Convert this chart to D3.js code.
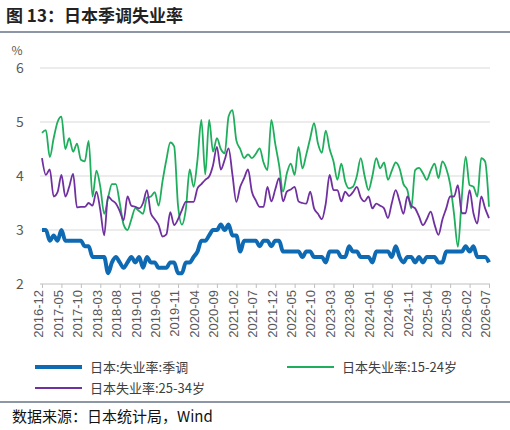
<!DOCTYPE html>
<html><head><meta charset="utf-8">
<script src="https://cdn.jsdelivr.net/npm/d3@7"></script>
<style>body{margin:0;background:#fff}svg{display:block}</style>
</head><body><svg id="c" width="510" height="430"></svg>
<script>
const startYear=2016,startMonth=12,nMonths=116;
const yTicks=[2,3,4,5,6];
const seriesNames=["日本:失业率:季调","日本失业率:15-24岁","日本失业率:25-34岁"];
const total=[3.0,
3.0,2.8,2.9,2.8,3.0,2.8,2.8,2.8,2.8,2.8,2.7,2.7,
2.5,2.5,2.5,2.5,2.2,2.4,2.5,2.4,2.3,2.4,2.5,2.4,
2.5,2.3,2.5,2.4,2.4,2.3,2.3,2.3,2.4,2.4,2.2,2.2,
2.4,2.4,2.5,2.6,2.8,2.8,2.9,3.0,3.0,3.1,3.0,3.1,
2.9,2.9,2.6,2.8,2.8,2.8,2.8,2.7,2.8,2.8,2.7,2.8,
2.8,2.6,2.6,2.6,2.6,2.6,2.5,2.6,2.6,2.5,2.5,2.5,
2.4,2.6,2.6,2.6,2.5,2.5,2.7,2.6,2.6,2.5,2.5,2.5,
2.4,2.6,2.6,2.6,2.6,2.5,2.7,2.5,2.4,2.5,2.5,2.4,
2.5,2.4,2.5,2.5,2.5,2.4,2.4,2.6,2.6,2.6,2.6,2.6,
2.7,2.6,2.7,2.5,2.5,2.5,2.4];
const youth=[4.8,4.85,4.35,4.7,5.0,5.1,4.5,4.7,4.45,4.6,4.3,4.27,4.65,3.62,4.1,3.8,3.3,3.6,3.85,3.85,3.5,3.1,3.0,3.2,3.4,3.35,3.3,3.6,3.62,3.7,3.45,3.9,4.3,4.62,4.55,3.45,3.1,3.38,4.12,3.8,4.3,5.04,4.03,5.04,4.45,4.7,4.5,4.42,5.1,5.22,4.66,4.5,4.33,4.4,4.33,4.41,4.51,4.25,4.11,5.04,4.6,4.2,3.71,4.05,4.23,4.02,4.54,4.14,4.4,4.7,4.98,4.6,4.43,4.84,4.5,4.27,3.93,4.23,3.9,3.77,3.8,4.0,4.33,4.0,3.74,4.0,4.33,4.14,4.25,3.93,4.1,4.25,4.14,3.85,3.74,3.4,4.11,4.15,4.05,3.93,4.1,4.23,3.96,4.27,4.14,3.85,3.3,2.69,3.6,4.36,3.83,3.8,3.62,4.33,4.27,3.43];
const adult=[4.33,4.02,4.12,3.62,3.7,4.02,3.62,3.8,4.04,3.42,3.43,3.43,3.5,3.45,3.71,3.37,2.9,3.62,3.55,3.49,3.35,3.18,3.62,3.45,3.43,3.4,3.5,3.74,3.31,3.2,3.09,2.88,2.92,3.33,3.09,3.2,3.37,3.52,3.52,3.52,3.77,3.85,3.93,3.99,4.2,4.54,4.12,4.3,4.51,4.02,3.52,3.8,3.96,4.12,3.71,3.55,3.43,3.43,3.8,3.53,3.75,3.96,3.53,3.71,3.75,3.8,3.53,3.5,3.49,3.71,3.4,3.3,3.2,3.49,4.02,3.74,3.74,3.53,3.71,3.63,3.7,3.8,3.6,3.53,3.62,3.4,3.49,3.45,3.4,3.22,3.5,3.74,3.53,3.3,3.62,3.45,3.4,3.25,3.09,3.2,3.34,3.1,2.91,3.19,3.4,3.62,3.62,3.83,3.31,3.31,3.74,3.31,3.12,3.62,3.4,3.22];
const colors=["#0e6ab3","#1fae5c","#7030a0"];
const labels=d3.range(nMonths).map(i=>{const m=startMonth-1+i;const y=startYear+Math.floor(m/12);return y+"-"+String(m%12+1).padStart(2,"0");});
const svg=d3.select("#c");
const font="'Noto Sans CJK SC','Noto Sans',sans-serif";
svg.append("text").attr("x",6).attr("y",22).attr("font-family",font).attr("font-weight","bold").attr("font-size",17).attr("fill","#222").text("图 13：日本季调失业率");
svg.append("line").attr("x1",0).attr("x2",510).attr("y1",32).attr("y2",32).attr("stroke","#1c2f4a").attr("stroke-width",1.2);
const x=d3.scalePoint().domain(labels).range([42,489]);
const y=d3.scaleLinear().domain([2,6]).range([284,68]);
const g=svg.append("g");
yTicks.forEach(t=>{ if(t>2) g.append("line").attr("x1",40).attr("x2",490).attr("y1",y(t)).attr("y2",y(t)).attr("stroke","#d9d9d9");
 g.append("text").attr("x",20).attr("y",y(t)+5).attr("text-anchor","middle").attr("font-family",font).attr("font-size",14).attr("fill","#595959").text(t);});
g.append("text").attr("x",17).attr("y",55).attr("text-anchor","middle").attr("font-family",font).attr("font-size",12).attr("fill","#595959").text("%");
const ax=svg.append("g").attr("transform","translate(0,284)").call(d3.axisBottom(x).tickValues(labels.filter((d,i)=>i%5===0)).tickSize(4).tickPadding(4));
ax.select(".domain").attr("stroke","#bfbfbf").attr("d","M40,0H490");
ax.selectAll(".tick line").attr("stroke","#bfbfbf");
ax.selectAll("text").attr("font-family","'Liberation Sans',Arial,sans-serif").attr("font-size",13).attr("fill","#595959").attr("transform","rotate(-90)").attr("text-anchor","end").attr("dx","-6").attr("dy","-0.2em").attr("y",0).attr("x",0).style("dominant-baseline","middle");
const line=d3.line().x((d,i)=>x(labels[i])).y(d=>y(d)).curve(d3.curveMonotoneX);
[[youth,1,1.8],[adult,2,1.8],[total,0,4]].forEach(([data,ci,w])=>{
 svg.append("path").datum(data).attr("d",line).attr("fill","none").attr("stroke",colors[ci]).attr("stroke-width",w).attr("stroke-linejoin","round");});
const leg=[[35,367,0,4],[287,367,1,2],[35,388,2,2]];
leg.forEach(([lx,ly,i,w])=>{svg.append("line").attr("x1",lx).attr("x2",lx+47).attr("y1",ly).attr("y2",ly).attr("stroke",colors[i]).attr("stroke-width",w);
 svg.append("text").attr("x",lx+55).attr("y",ly+5).attr("font-family",font).attr("font-size",13).attr("fill","#404040").text(seriesNames[i]);});
svg.append("line").attr("x1",0).attr("x2",510).attr("y1",402).attr("y2",402).attr("stroke","#1c2f4a").attr("stroke-width",1.2);
svg.append("text").attr("x",12).attr("y",422).attr("font-family","'Noto Sans CJK SC','Liberation Serif',serif").attr("font-size",15).attr("fill","#111").text("数据来源：日本统计局，Wind");
</script></body></html>
